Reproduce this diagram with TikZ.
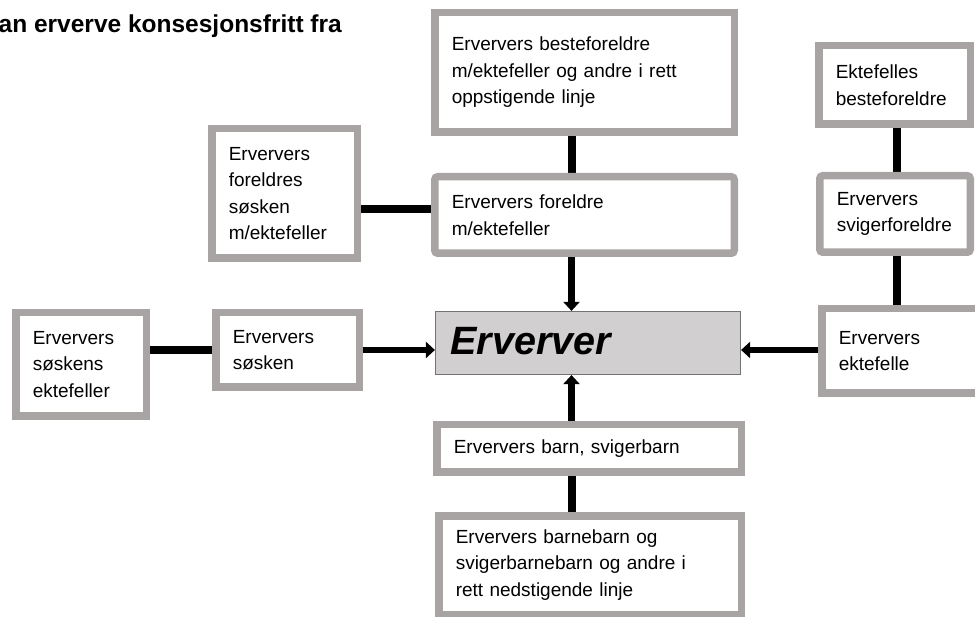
\documentclass[tikz,border=0pt]{standalone}
\usepackage{fontspec}
\setmainfont{Liberation Sans}
\usetikzlibrary{arrows.meta}
\usetikzlibrary{backgrounds}
\usepackage{xcolor}
\definecolor{rammegraa}{HTML}{A8A4A4}
\definecolor{kjernegraa}{HTML}{D1CFD0}
\hyphenpenalty=10000

\tikzset{
  boks/.style={draw=rammegraa, line width=7.5pt, fill=white, align=left, inner xsep=17pt, inner ysep=0pt, font=\fontsize{19}{26.5}\selectfont},
  kjerne/.style={draw=black!55, line width=1.2pt, fill=kjernegraa, align=left, inner xsep=15pt, inner ysep=0pt, text width=275pt, text height=28pt, text depth=5pt, minimum height=63pt, font=\bfseries\itshape\fontsize{39.5}{42}\selectfont},
  linje/.style={line width=8pt, black},
  pil/.style={line width=6.5pt, black, -{Triangle[length=9pt,width=16pt]}}
}

\begin{document}
\begin{tikzpicture}[x=1pt,y=-1pt]
\useasboundingbox (0,0) rectangle (975,617);
\coordinate (akse) at (571.5,0);
\coordinate (hakse) at (0,350);
\coordinate (vakse) at (897,0);
\coordinate (fakse) at (0,209);

\node[anchor=base west, inner sep=0, font=\bfseries\fontsize{24.5}{28}\selectfont] (tittel) at (-1.5,33) {an erverve konsesjonsfritt fra};

\node[kjerne] (erverver) at (588,343) {Erverver};
\node[boks, text width=265.5pt, minimum height=119.5pt] (bestefor) at (584.5,72.5) {Erververs besteforeldre\\m/ektefeller og andre i rett\\oppstigende linje};
\node[boks, text width=265.5pt, minimum height=76.5pt, rounded corners=3pt] (foreldre) at (584.5,215) {Erververs foreldre\\m/ektefeller};
\node[boks, text width=111.5pt, minimum height=129.5pt] (fsosken) at (284.5,193.5) {Erververs\\foreldres\\søsken\\m/ektefeller};
\node[boks, text width=109.5pt, minimum height=74.5pt] (sosken) at (287.5,350) {Erververs\\søsken};
\node[boks, text width=96.5pt, minimum height=103.5pt] (sosektef) at (81,364.5) {Erververs\\søskens\\ektefeller};
\node[boks, text width=130.5pt, minimum height=84.5pt] (ektefelle) at (904,351) {Erververs\\ektefelle};
\node[boks, text width=116.5pt, minimum height=76.5pt, rounded corners=3pt] (svigerf) at (895,214) {Erververs\\svigerforeldre};
\node[boks, text width=117.5pt, minimum height=78.5pt] (ektbeste) at (894.5,85) {Ektefelles\\besteforeldre};
\node[boks, text width=270.5pt, minimum height=47.5pt] (barn) at (589,448.5) {Erververs barn, svigerbarn};
\node[boks, text width=268.5pt, minimum height=98.5pt] (barnebarn) at (590,565) {Erververs barnebarn og\\svigerbarnebarn og andre i\\rett nedstigende linje};

\begin{scope}[on background layer]
\draw[linje] (bestefor.south -| akse) -- (foreldre.north -| akse);
\draw[linje] (fsosken.east |- fakse) -- (foreldre.west |- fakse);
\draw[linje] (sosektef.east |- hakse) -- (sosken.west |- hakse);
\draw[linje] (ektbeste.south -| vakse) -- (svigerf.north -| vakse);
\draw[linje] (svigerf.south -| vakse) -- (ektefelle.north -| vakse);
\draw[linje] (barnebarn.north -| akse) -- (barn.south -| akse);
\draw[pil] (foreldre.south -| akse) -- (erverver.north -| akse);
\draw[pil] (barn.north -| akse) -- (erverver.south -| akse);
\draw[pil] (sosken.east |- hakse) -- (erverver.west |- hakse);
\draw[pil] (ektefelle.west |- hakse) -- (erverver.east |- hakse);
\end{scope}
\end{tikzpicture}
\end{document}
